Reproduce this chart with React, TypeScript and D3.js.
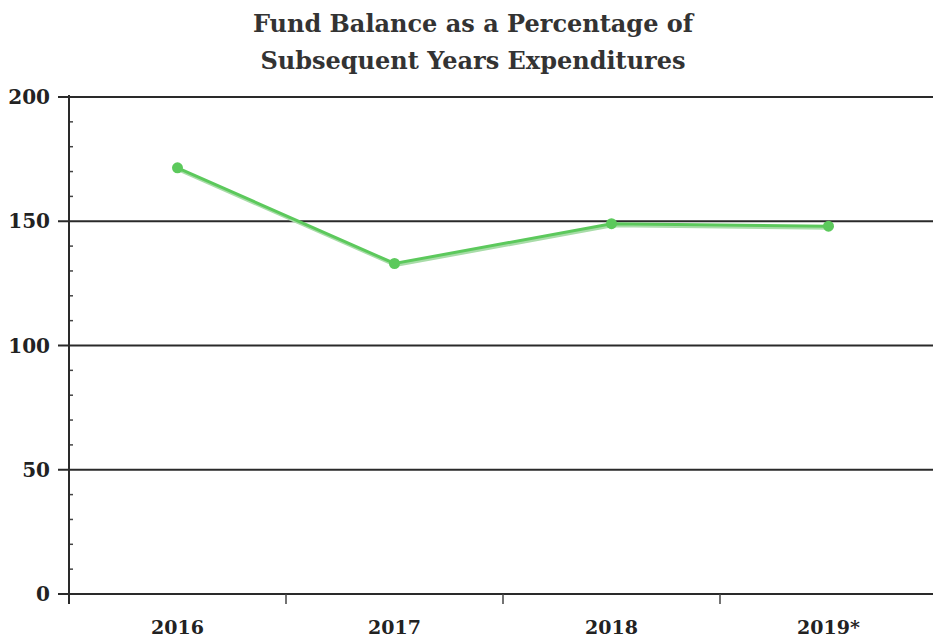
import React from "react";
import * as d3 from "d3";

const categories = ["2016", "2017", "2018", "2019*"];
const values = [171.5, 133, 149, 148];
const yTicks = [0, 50, 100, 150, 200];
const titleLines = ["Fund Balance as a Percentage of", "Subsequent Years Expenditures"];

export default function App() {
  const W = 933, H = 639;
  const left = 69, right = 937, top = 97, bottom = 594;
  const x = d3.scaleBand<string>().domain(categories).range([left, right]).padding(0);
  const y = d3.scaleLinear().domain([0, 200]).range([bottom, top]);
  const minor = d3.range(0, 201, 10).filter((v) => v % 50 !== 0);
  const line = d3
    .line<number>()
    .x((_, i) => (x(categories[i]) as number) + x.bandwidth() / 2)
    .y((d) => y(d));
  const font = "DejaVu Serif";
  const green = "#5cc95c";
  return (
    <svg width={W} height={H} style={{ position: "absolute", left: 0, top: 0, background: "#fff" }}>
      <g fontFamily={font} fontWeight="bold" fill="#333" textAnchor="middle" fontSize={24}>
        {titleLines.map((t, i) => (
          <text key={i} x={473} y={32 + i * 37}>{t}</text>
        ))}
      </g>
      {yTicks.map((t) => (
        <g key={t}>
          <line x1={58} x2={W} y1={y(t)} y2={y(t)} stroke="#2a2a2a" strokeWidth={2} />
          <text x={50} y={y(t)} dy="0.36em" textAnchor="end" fontFamily={font} fontWeight="bold" fontSize={20} fill="#222">
            {t}
          </text>
        </g>
      ))}
      {minor.map((t) => (
        <line key={t} x1={left} x2={left + 4} y1={y(t)} y2={y(t)} stroke="#444" strokeWidth={1.5} />
      ))}
      <line x1={left} x2={left} y1={top - 2} y2={bottom + 10} stroke="#2a2a2a" strokeWidth={2} />
      {categories.slice(1).map((c) => (
        <line key={c} x1={x(c)} x2={x(c)} y1={bottom} y2={bottom + 10} stroke="#444" strokeWidth={1.5} />
      ))}
      {categories.map((c) => (
        <text key={c} x={(x(c) as number) + x.bandwidth() / 2} y={634} textAnchor="middle" fontFamily={font} fontWeight="bold" fontSize={19} fill="#222">
          {c}
        </text>
      ))}
      <path d={line(values) || ""} fill="none" stroke="#a8dca8" strokeWidth={3} transform="translate(1,2)" />
      <path d={line(values) || ""} fill="none" stroke={green} strokeWidth={3} />
      {values.map((v, i) => (
        <circle key={i} cx={(x(categories[i]) as number) + x.bandwidth() / 2} cy={y(v)} r={5.5} fill={green} />
      ))}
    </svg>
  );
}
